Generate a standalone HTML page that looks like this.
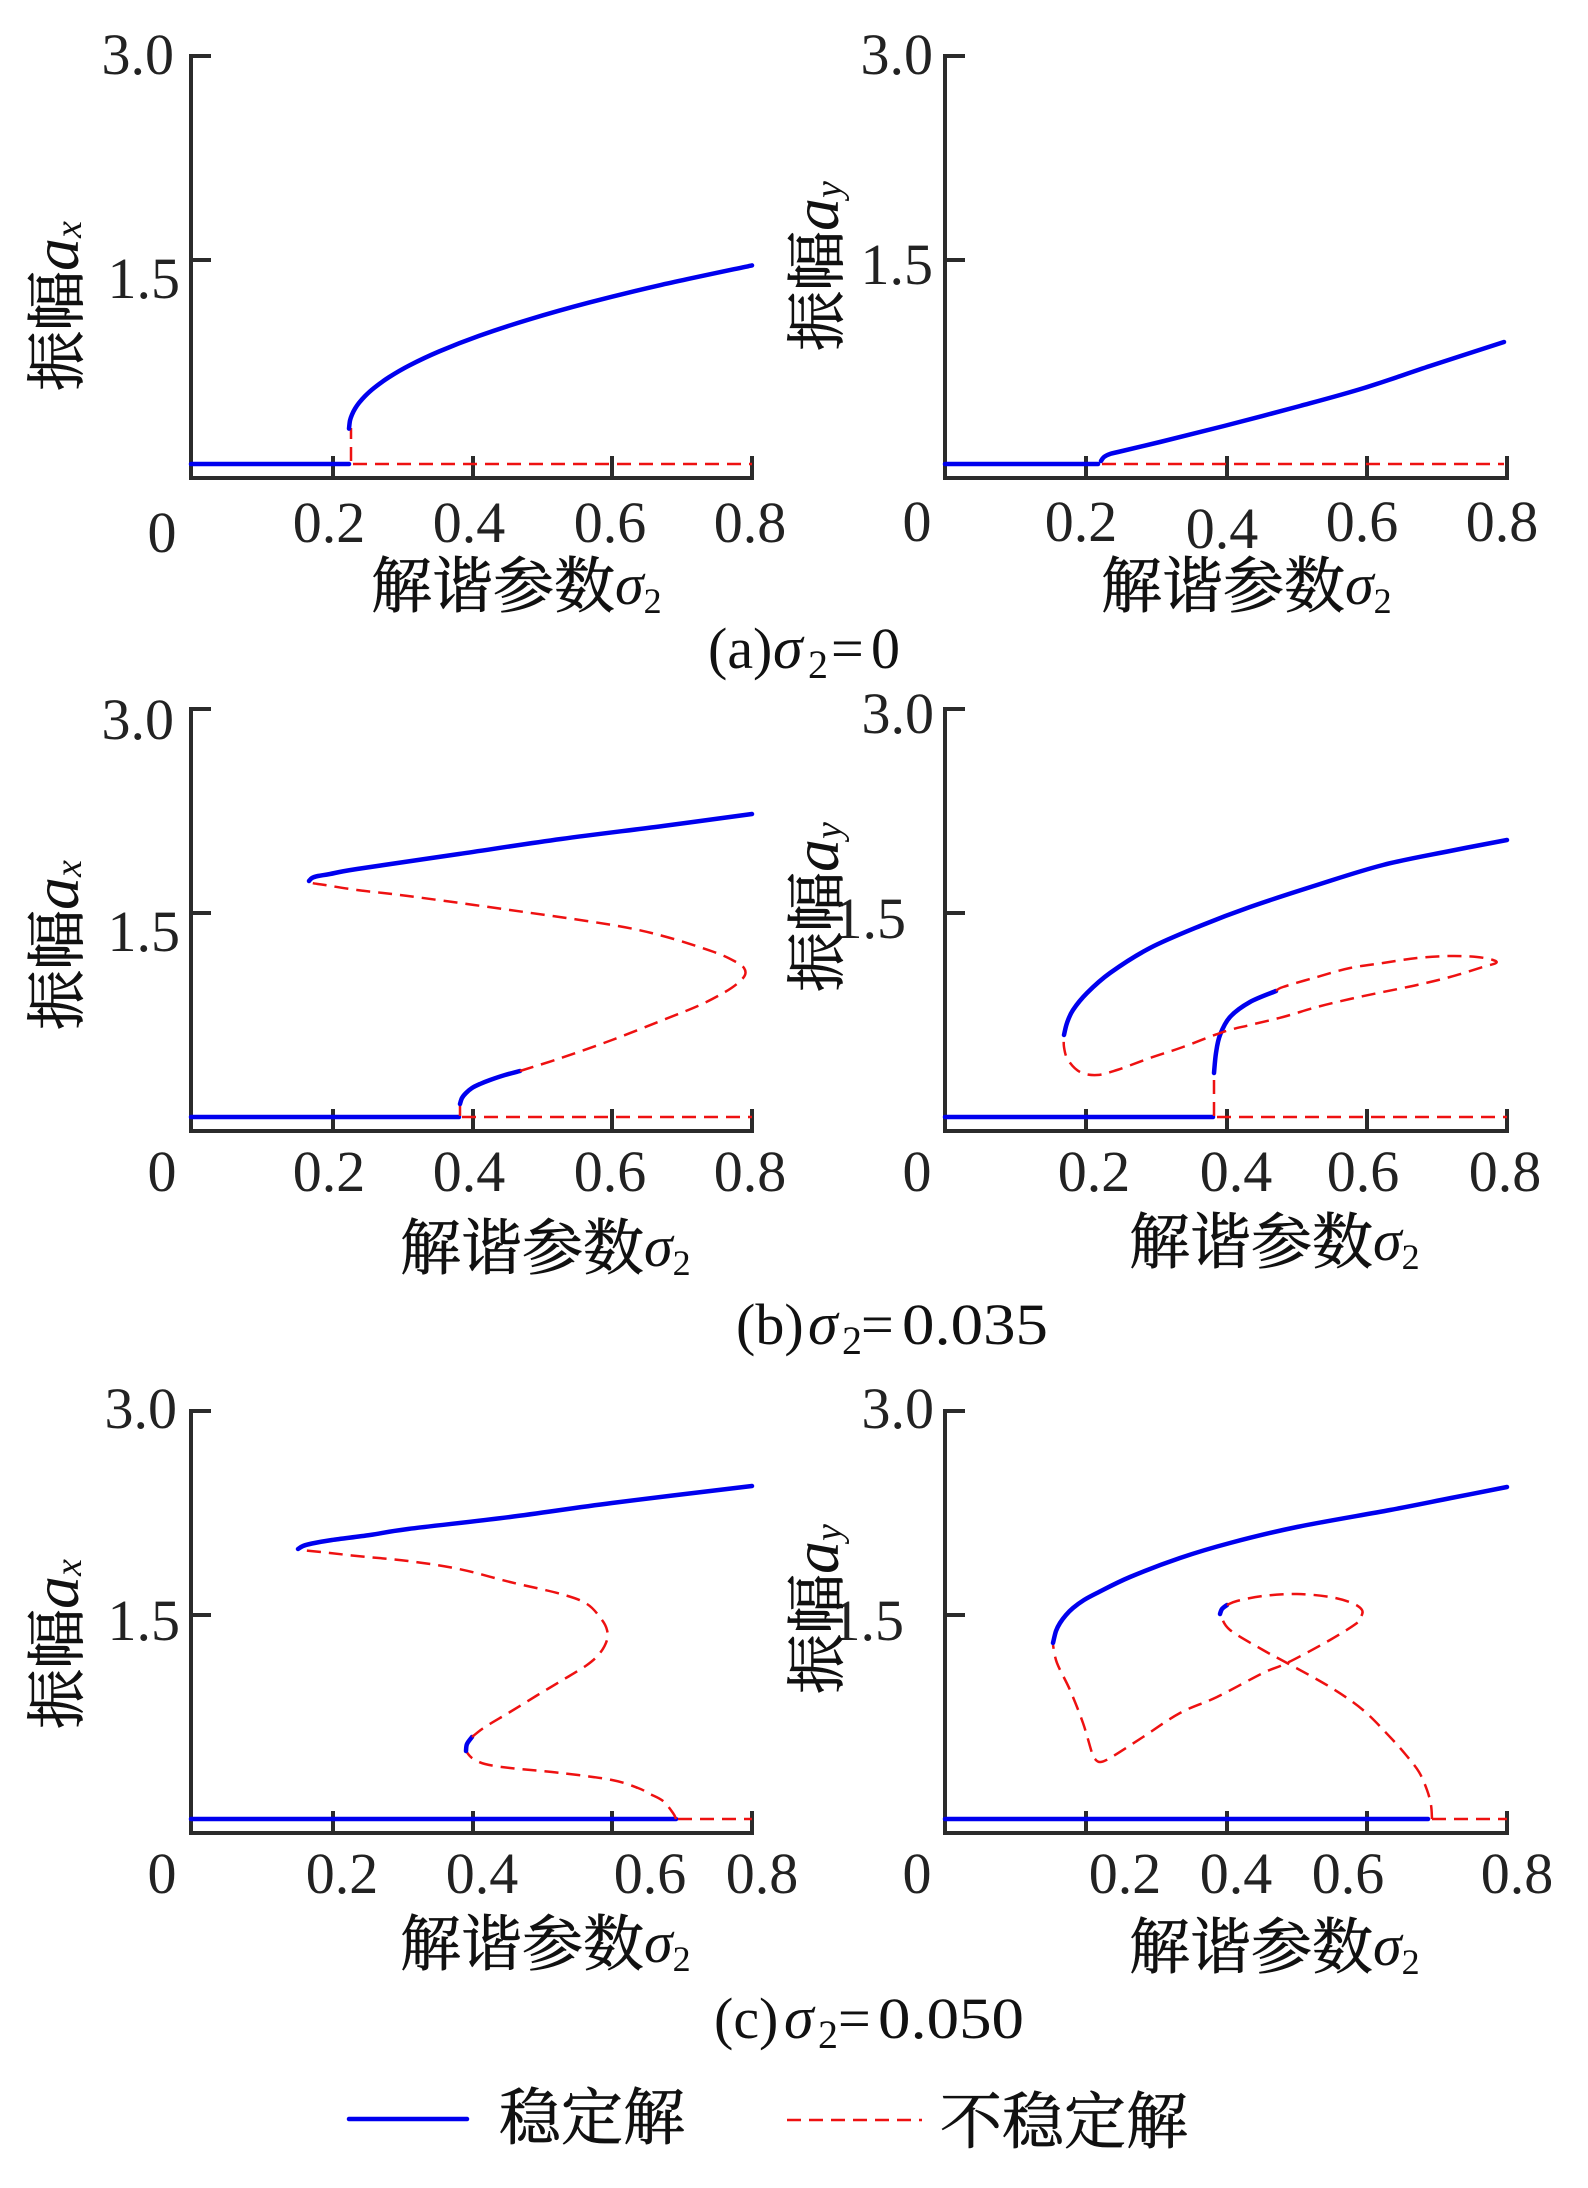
<!DOCTYPE html>
<html>
<head>
<meta charset="utf-8">
<style>
html,body{margin:0;padding:0;background:#fff;}
svg{display:block;}
.tk{font-family:"Liberation Serif","Noto Serif CJK SC",serif;font-size:58px;fill:#222;}
.cj{font-family:"Liberation Serif","Noto Serif CJK SC",serif;font-size:61px;fill:#111;stroke:#111;stroke-width:0.7;}
.it{font-family:"Liberation Serif",serif;font-style:italic;fill:#111;stroke:none;}
.rm{font-family:"Liberation Serif",serif;fill:#111;stroke:none;}
.ax{fill:none;stroke:#2b2b2b;stroke-width:4;stroke-linecap:butt;}
.b{fill:none;stroke:#0000ee;stroke-width:4.5;stroke-linejoin:round;stroke-linecap:round;}
.r{fill:none;stroke:#ee1111;stroke-width:2.5;stroke-dasharray:14 8;stroke-linejoin:round;}
</style>
</head>
<body>
<svg width="1588" height="2188" viewBox="0 0 1588 2188" xmlns="http://www.w3.org/2000/svg">
<rect x="0" y="0" width="1588" height="2188" fill="#fff"/>

<!-- ============ AXES ============ -->
<path class="ax" d="M211,56 H191 V478 H752 M191,260 H211 M333,478 V456 M473,478 V456 M612,478 V456 M752,480 V456"/>
<path class="ax" d="M965,56 H945 V478 H1507 M945,260 H965 M1086,478 V456 M1227,478 V456 M1367,478 V456 M1507,480 V456"/>
<path class="ax" d="M211,709 H191 V1131 H752 M191,913 H211 M333,1131 V1109 M473,1131 V1109 M612,1131 V1109 M752,1133 V1109"/>
<path class="ax" d="M965,709 H945 V1131 H1507 M945,913 H965 M1086,1131 V1109 M1227,1131 V1109 M1367,1131 V1109 M1507,1133 V1109"/>
<path class="ax" d="M211,1411 H191 V1833 H752 M191,1615 H211 M333,1833 V1811 M473,1833 V1811 M612,1833 V1811 M752,1835 V1811"/>
<path class="ax" d="M965,1411 H945 V1833 H1507 M945,1615 H965 M1086,1833 V1811 M1227,1833 V1811 M1367,1833 V1811 M1507,1835 V1811"/>

<!-- ============ TICK LABELS ============ -->
<text class="tk" x="174" y="74" text-anchor="end">3.0</text>
<text class="tk" x="180" y="298" text-anchor="end">1.5</text>
<text class="tk" x="162" y="552" text-anchor="middle">0</text>
<text class="tk" x="329" y="542" text-anchor="middle">0.2</text>
<text class="tk" x="469" y="542" text-anchor="middle">0.4</text>
<text class="tk" x="610" y="542" text-anchor="middle">0.6</text>
<text class="tk" x="750" y="542" text-anchor="middle">0.8</text>

<text class="tk" x="933" y="74" text-anchor="end">3.0</text>
<text class="tk" x="933" y="284" text-anchor="end">1.5</text>
<text class="tk" x="917" y="541" text-anchor="middle">0</text>
<text class="tk" x="1081" y="541" text-anchor="middle">0.2</text>
<text class="tk" x="1222" y="548" text-anchor="middle">0.4</text>
<text class="tk" x="1362" y="541" text-anchor="middle">0.6</text>
<text class="tk" x="1502" y="541" text-anchor="middle">0.8</text>

<text class="tk" x="174" y="739" text-anchor="end">3.0</text>
<text class="tk" x="180" y="951" text-anchor="end">1.5</text>
<text class="tk" x="162" y="1191" text-anchor="middle">0</text>
<text class="tk" x="329" y="1191" text-anchor="middle">0.2</text>
<text class="tk" x="469" y="1191" text-anchor="middle">0.4</text>
<text class="tk" x="610" y="1191" text-anchor="middle">0.6</text>
<text class="tk" x="750" y="1191" text-anchor="middle">0.8</text>

<text class="tk" x="934" y="733" text-anchor="end">3.0</text>
<text class="tk" x="906" y="938" text-anchor="end">1.5</text>
<text class="tk" x="917" y="1191" text-anchor="middle">0</text>
<text class="tk" x="1094" y="1191" text-anchor="middle">0.2</text>
<text class="tk" x="1236" y="1191" text-anchor="middle">0.4</text>
<text class="tk" x="1363" y="1191" text-anchor="middle">0.6</text>
<text class="tk" x="1505" y="1191" text-anchor="middle">0.8</text>

<text class="tk" x="177" y="1428" text-anchor="end">3.0</text>
<text class="tk" x="180" y="1640" text-anchor="end">1.5</text>
<text class="tk" x="162" y="1893" text-anchor="middle">0</text>
<text class="tk" x="342" y="1893" text-anchor="middle">0.2</text>
<text class="tk" x="482" y="1893" text-anchor="middle">0.4</text>
<text class="tk" x="650" y="1893" text-anchor="middle">0.6</text>
<text class="tk" x="762" y="1893" text-anchor="middle">0.8</text>

<text class="tk" x="934" y="1428" text-anchor="end">3.0</text>
<text class="tk" x="904" y="1640" text-anchor="end">1.5</text>
<text class="tk" x="917" y="1893" text-anchor="middle">0</text>
<text class="tk" x="1125" y="1893" text-anchor="middle">0.2</text>
<text class="tk" x="1236" y="1893" text-anchor="middle">0.4</text>
<text class="tk" x="1348" y="1893" text-anchor="middle">0.6</text>
<text class="tk" x="1517" y="1893" text-anchor="middle">0.8</text>

<!-- ============ X AXIS LABELS ============ -->
<text class="cj" x="371" y="607">解谐参数<tspan class="it" font-size="58" dy="-3">σ</tspan><tspan class="rm" font-size="36" dy="9">2</tspan></text>
<text class="cj" x="1101" y="607">解谐参数<tspan class="it" font-size="58" dy="-3">σ</tspan><tspan class="rm" font-size="36" dy="9">2</tspan></text>
<text class="cj" x="400" y="1269">解谐参数<tspan class="it" font-size="58" dy="-3">σ</tspan><tspan class="rm" font-size="36" dy="9">2</tspan></text>
<text class="cj" x="1129" y="1263">解谐参数<tspan class="it" font-size="58" dy="-3">σ</tspan><tspan class="rm" font-size="36" dy="9">2</tspan></text>
<text class="cj" x="400" y="1965">解谐参数<tspan class="it" font-size="58" dy="-3">σ</tspan><tspan class="rm" font-size="36" dy="9">2</tspan></text>
<text class="cj" x="1129" y="1968">解谐参数<tspan class="it" font-size="58" dy="-3">σ</tspan><tspan class="rm" font-size="36" dy="9">2</tspan></text>

<!-- ============ Y AXIS LABELS ============ -->
<text class="cj" style="font-size:60px" transform="translate(78,391) rotate(-90)">振幅<tspan class="it" font-size="66">a</tspan><tspan class="it" font-size="38" dy="3">x</tspan></text>
<text class="cj" style="font-size:60px" transform="translate(838,351) rotate(-90)">振幅<tspan class="it" font-size="66">a</tspan><tspan class="it" font-size="38" dy="3">y</tspan></text>
<text class="cj" style="font-size:60px" transform="translate(78,1030) rotate(-90)">振幅<tspan class="it" font-size="66">a</tspan><tspan class="it" font-size="38" dy="3">x</tspan></text>
<text class="cj" style="font-size:60px" transform="translate(838,992) rotate(-90)">振幅<tspan class="it" font-size="66">a</tspan><tspan class="it" font-size="38" dy="3">y</tspan></text>
<text class="cj" style="font-size:60px" transform="translate(78,1729) rotate(-90)">振幅<tspan class="it" font-size="66">a</tspan><tspan class="it" font-size="38" dy="3">x</tspan></text>
<text class="cj" style="font-size:60px" transform="translate(838,1694) rotate(-90)">振幅<tspan class="it" font-size="66">a</tspan><tspan class="it" font-size="38" dy="3">y</tspan></text>

<!-- ============ CAPTIONS ============ -->
<text class="rm" font-size="58" x="708" y="668">(a)</text>
<text class="it" font-size="60" x="773" y="668">σ</text>
<text class="rm" font-size="40" x="808" y="678">2</text>
<text class="rm" font-size="58" x="831" y="668">=</text>
<text class="rm" font-size="58" x="871" y="668">0</text>

<text class="rm" font-size="58" x="736" y="1344">(b)</text>
<text class="it" font-size="60" x="808" y="1344">σ</text>
<text class="rm" font-size="40" x="842" y="1354">2</text>
<text class="rm" font-size="58" x="861" y="1344">=</text>
<text class="rm" font-size="58" x="902" y="1344" textLength="146" lengthAdjust="spacingAndGlyphs">0.035</text>

<text class="rm" font-size="58" x="714" y="2038">(c)</text>
<text class="it" font-size="60" x="784" y="2038">σ</text>
<text class="rm" font-size="40" x="818" y="2048">2</text>
<text class="rm" font-size="58" x="838" y="2038">=</text>
<text class="rm" font-size="58" x="878" y="2038" textLength="146" lengthAdjust="spacingAndGlyphs">0.050</text>

<!-- ============ CURVES ============ -->
<!-- (a) left -->
<path class="b" d="M191,464 H349"/>
<path class="r" d="M351,461 V428"/>
<path class="b s" d="M349,428.6 L350,420.5 L352,414.6 L355,408.7 L359,402.9 L365,396.1 L374,388 L389,377.2 L409,365.6 L439,351.5 L479,335.9 L529,319.5 L589,302.6 L659,285.4 L752,265.4"/>
<path class="r" d="M353,464 H752"/>

<!-- (a) right -->
<path class="b" d="M945,464 H1098"/>
<path class="b s" d="M1101,461 L1104,457 L1110,454 L1118,452 L1160,442 L1224,426 L1300,406 L1364,388 L1430,366 L1504,342"/>
<path class="r" d="M1102,464 H1504"/>

<!-- (b) left -->
<path class="b" d="M191,1117 H459"/>
<path class="r" d="M460,1116 V1105"/>
<path class="b s" d="M460,1104 L462,1098 L466,1093 L472,1088 L480,1084 L490,1080 L505,1075 L520,1071"/>
<path class="r s" d="M520,1071 L561,1058 L612,1040 L663,1020 L700,1005 L725,992 L738,983 L745,975 L744,968 L736,962 L714,952 L663,936 L612,925 L510,910 L408,896 L357,890 L325,885 L312,883 L309,881"/>
<path class="b s" d="M309,881 L312,878 L318,876 L330,874 L357,869 L459,854 L561,839 L663,826 L752,814"/>
<path class="r" d="M462,1117 H752"/>

<!-- (b) right -->
<path class="b" d="M945,1117 H1213"/>
<path class="r" d="M1214,1116 V1073"/>
<path class="b s" d="M1214,1073 L1216,1053 L1220,1035 L1230,1017 L1250,1002 L1276,991"/>
<path class="r s" d="M1276,991 L1283,987 L1317,977 L1350,968 L1383,963 L1417,958 L1450,956 L1477,957 L1493,960 L1496,963 L1483,967 L1450,977 L1417,985 L1383,992 L1350,999 L1317,1007 L1283,1017 L1250,1025 L1223,1032 L1183,1047 L1150,1058 L1117,1070 L1097,1075 L1080,1072 L1068,1060 L1064,1047 L1064,1035"/>
<path class="b s" d="M1064,1035 L1067,1023 L1073,1010 L1087,993 L1110,973 L1150,948 L1200,926 L1250,907 L1317,885 L1383,865 L1450,851 L1507,840"/>
<path class="r" d="M1217,1117 H1507"/>

<!-- (c) left -->
<path class="b" d="M191,1819 H676"/>
<path class="r" d="M678,1819 H752"/>
<path class="r s" d="M676,1819 L673,1813 L663,1801 L650,1794 L638,1788 L612,1780 L561,1773 L510,1768 L485,1764 L472,1758 L466,1751"/>
<path class="b s" d="M466,1751 L467,1744 L472,1737"/>
<path class="r s" d="M472,1737 L485,1727 L510,1712 L536,1696 L561,1681 L587,1665 L600,1653 L607,1640 L607,1630 L602,1620 L587,1604 L561,1594 L510,1582 L459,1569 L408,1561 L357,1556 L321,1552 L300,1550"/>
<path class="b s" d="M298,1549 L303,1546 L312,1543.5 L332,1540 L370,1535 L408,1529 L510,1517 L612,1503 L752,1486"/>

<!-- (c) right -->
<path class="b" d="M945,1819 H1428"/>
<path class="r" d="M1432,1819 H1507"/>
<path class="r s" d="M1432,1819 L1431,1805 L1427,1790 L1419,1772 L1406,1755 L1390,1737 L1363,1710 L1330,1687 L1287,1663 L1263,1650 L1230,1630 L1221,1616"/>
<path class="b s" d="M1220,1614 L1222,1609 L1227,1605"/>
<path class="r s" d="M1227,1605 L1237,1601 L1263,1596 L1297,1594 L1330,1597 L1352,1603 L1362,1610 L1361,1617 L1357,1623 L1330,1640 L1287,1663 L1263,1673 L1217,1697 L1180,1713 L1143,1737 L1110,1758 L1100,1762 L1095,1759 L1092,1753 L1083,1723 L1070,1690 L1057,1663 L1053,1645"/>
<path class="b s" d="M1053,1643 L1056,1631 L1060,1623 L1066,1615 L1073,1608 L1084,1600 L1097,1593 L1130,1577 L1180,1558 L1230,1543 L1297,1527 L1390,1510 L1451,1498 L1507,1487"/>

<!-- ============ LEGEND ============ -->
<path class="b" d="M349,2119 H467"/>
<text class="cj" style="font-size:62px" x="499" y="2139">稳定解</text>
<path class="r" d="M787,2120 H922"/>
<text class="cj" style="font-size:62px" x="940" y="2143">不稳定解</text>
</svg>
<script>
(function(){
  var ps=document.querySelectorAll('path.s');
  for(var k=0;k<ps.length;k++){
    var p=ps[k];
    var n=p.getAttribute('d').match(/-?\d+(\.\d+)?/g);
    if(!n||n.length<6) continue;
    var pts=[];
    for(var i=0;i+1<n.length;i+=2) pts.push([+n[i],+n[i+1]]);
    var d='M'+pts[0][0]+','+pts[0][1];
    for(var i=0;i<pts.length-1;i++){
      var p0=pts[i-1]||pts[i],p1=pts[i],p2=pts[i+1],p3=pts[i+2]||pts[i+1];
      var c1x=p1[0]+(p2[0]-p0[0])/6,c1y=p1[1]+(p2[1]-p0[1])/6;
      var c2x=p2[0]-(p3[0]-p1[0])/6,c2y=p2[1]-(p3[1]-p1[1])/6;
      d+=' C'+c1x.toFixed(2)+','+c1y.toFixed(2)+' '+c2x.toFixed(2)+','+c2y.toFixed(2)+' '+p2[0]+','+p2[1];
    }
    p.setAttribute('d',d);
  }
})();
</script>
</body>
</html>
